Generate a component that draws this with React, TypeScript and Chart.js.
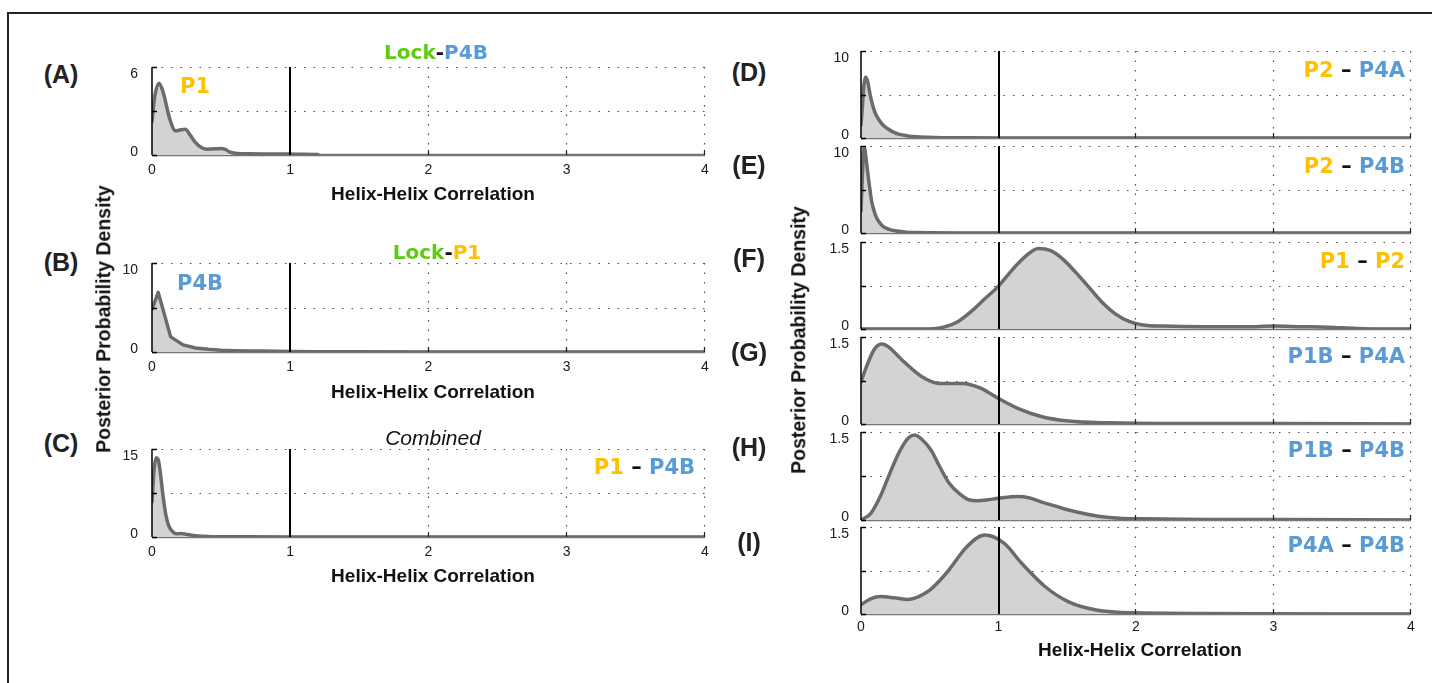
import React, { useEffect, useRef } from 'react';
import { Chart, registerables } from 'chart.js';

Chart.register(...registerables);

// ---------- data ----------
const xTickLabels = ['0', '1', '2', '3', '4'];

const xA = [0, 0.02, 0.05, 0.08, 0.13, 0.17, 0.21, 0.24, 0.28, 0.31, 0.36, 0.4, 0.46, 0.5, 0.53, 0.56, 0.6, 0.7, 0.8, 0.9, 1.0, 1.1, 1.2];
const yA = [2.3, 4.0, 4.9, 4.3, 2.4, 1.65, 1.72, 1.75, 1.3, 0.9, 0.5, 0.4, 0.42, 0.45, 0.38, 0.22, 0.12, 0.08, 0.07, 0.07, 0.06, 0.05, 0.03];

const xB = [0, 0.045, 0.135, 0.225, 0.315, 0.405, 0.5, 0.6, 0.7, 0.8, 0.9, 1.0, 1.2, 1.5, 2.0, 3.0, 4.0];
const yB = [4.8, 6.7, 1.7, 0.8, 0.45, 0.3, 0.2, 0.15, 0.12, 0.1, 0.08, 0.05, 0.03, 0.02, 0.01, 0, 0];

const xC = [0, 0.015, 0.03, 0.045, 0.06, 0.08, 0.1, 0.12, 0.15, 0.18, 0.21, 0.25, 0.3, 0.4, 0.5, 0.7, 1.0, 2.0, 3.0, 4.0];
const yC = [6, 11.5, 13.5, 13.2, 11, 7, 3.8, 2.0, 0.9, 0.55, 0.6, 0.45, 0.25, 0.1, 0.05, 0.03, 0.02, 0.01, 0, 0];

const xD = [0, 0.01, 0.02, 0.033, 0.05, 0.066, 0.1, 0.13, 0.16, 0.2, 0.24, 0.28, 0.33, 0.4, 0.48, 0.6, 0.8, 1.0, 1.5, 2, 3, 4];
const yD = [1.5, 3.6, 5.9, 7.0, 6.4, 5.0, 3.0, 2.1, 1.5, 1.0, 0.65, 0.42, 0.27, 0.14, 0.08, 0.04, 0.02, 0.01, 0, 0, 0, 0];

const xE = [0, 0.01, 0.018, 0.025, 0.035, 0.054, 0.078, 0.1, 0.115, 0.14, 0.163, 0.2, 0.26, 0.33, 0.41, 0.5, 0.7, 1.0, 2, 4];
const yE = [2.5, 6.5, 9.3, 9.9, 8.8, 6.3, 3.6, 2.3, 1.7, 1.1, 0.73, 0.45, 0.23, 0.1, 0.05, 0.03, 0.01, 0, 0, 0];

const xF = [0, 0.3, 0.5, 0.6, 0.7, 0.8, 0.9, 1.0, 1.1, 1.2, 1.29, 1.38, 1.47, 1.56, 1.65, 1.75, 1.85, 1.95, 2.05, 2.2, 2.5, 2.8, 3.0, 3.2, 3.4, 3.6, 3.8, 4.0];
const yF = [0, 0, 0, 0.03, 0.12, 0.3, 0.52, 0.74, 1.02, 1.26, 1.39, 1.35, 1.2, 0.98, 0.74, 0.47, 0.26, 0.13, 0.07, 0.05, 0.04, 0.04, 0.05, 0.04, 0.03, 0.01, 0, 0];

const xG = [0, 0.05, 0.1, 0.154, 0.2, 0.3, 0.44, 0.57, 0.66, 0.74, 0.87, 1.0, 1.14, 1.31, 1.51, 1.81, 2.2, 3, 4];
const yG = [0.73, 1.05, 1.3, 1.38, 1.33, 1.1, 0.82, 0.7, 0.7, 0.7, 0.62, 0.44, 0.27, 0.13, 0.05, 0.02, 0.01, 0.01, 0];

const xH = [0, 0.07, 0.14, 0.2, 0.25, 0.3, 0.35, 0.39, 0.44, 0.51, 0.57, 0.64, 0.72, 0.79, 0.85, 0.91, 1.0, 1.14, 1.22, 1.31, 1.41, 1.51, 1.62, 1.74, 1.88, 2.04, 2.5, 3, 4];
const yH = [0, 0.11, 0.4, 0.74, 1.02, 1.25, 1.41, 1.45, 1.38, 1.19, 0.92, 0.63, 0.44, 0.34, 0.33, 0.34, 0.37, 0.4, 0.38, 0.31, 0.24, 0.17, 0.11, 0.06, 0.03, 0.02, 0.01, 0.01, 0];

const xI = [0, 0.07, 0.14, 0.24, 0.34, 0.42, 0.5, 0.57, 0.64, 0.77, 0.9, 1.04, 1.17, 1.34, 1.51, 1.71, 1.98, 2.5, 3.5, 4];
const yI = [0.16, 0.26, 0.3, 0.28, 0.25, 0.3, 0.41, 0.57, 0.76, 1.16, 1.36, 1.22, 0.87, 0.47, 0.21, 0.07, 0.02, 0.01, 0, 0];

const yMaxes = [6, 10, 15, 10, 10, 1.5, 1.5, 1.5, 1.5];
const yTopLabels = ['6', '10', '15', '10', '10', '1.5', '1.5', '1.5', '1.5'];
const yZeroLabel = '0';

// ---------- layout / style ----------
const Y_W = 60;
const PAD_T = 32;
const PAD_R = 24;
const X_H = 34;
const X_H0 = 32;

const YELLOW = '#FFC000';
const BLUE = '#5B9BD5';
const GREEN = '#5FCB10';
const TICK_FONT = "'Liberation Sans', Arial, Helvetica, sans-serif";
const ANN_FONT = "'DejaVu Sans', Verdana, sans-serif";

type PanelCfg = {
  key: string;
  xs: number[];
  ys: number[];
  idx: number;
  box: [number, number, number, number];
  xLabels: boolean;
  smooth: boolean;
  yPad: number;
  xPad: number;
};

const LX0 = 152, LX1 = 705;
const RX0 = 861, RX1 = 1411;

const panels: PanelCfg[] = [
  { key: 'A', xs: xA, ys: yA, idx: 0, box: [LX0, 67, LX1, 155], xLabels: true, smooth: true, yPad: 14, xPad: 7 },
  { key: 'B', xs: xB, ys: yB, idx: 1, box: [LX0, 263, LX1, 352], xLabels: true, smooth: false, yPad: 14, xPad: 7 },
  { key: 'C', xs: xC, ys: yC, idx: 2, box: [LX0, 449, LX1, 537], xLabels: true, smooth: true, yPad: 14, xPad: 7 },
  { key: 'D', xs: xD, ys: yD, idx: 3, box: [RX0, 51, RX1, 138], xLabels: false, smooth: true, yPad: 12, xPad: 5 },
  { key: 'E', xs: xE, ys: yE, idx: 4, box: [RX0, 146, RX1, 233], xLabels: false, smooth: true, yPad: 12, xPad: 5 },
  { key: 'F', xs: xF, ys: yF, idx: 5, box: [RX0, 242, RX1, 329], xLabels: false, smooth: true, yPad: 12, xPad: 5 },
  { key: 'G', xs: xG, ys: yG, idx: 6, box: [RX0, 337, RX1, 424], xLabels: false, smooth: true, yPad: 12, xPad: 5 },
  { key: 'H', xs: xH, ys: yH, idx: 7, box: [RX0, 432, RX1, 520], xLabels: false, smooth: true, yPad: 12, xPad: 5 },
  { key: 'I', xs: xI, ys: yI, idx: 8, box: [RX0, 527, RX1, 614], xLabels: true, smooth: true, yPad: 12, xPad: 5 },
];

const framePlugin = {
  id: 'panelFrame',
  beforeDatasetsDraw(chart: any) {
    const { ctx, chartArea, scales } = chart;
    const { left, right, top, bottom } = chartArea;
    const x = scales.x, y = scales.y;
    ctx.save();
    // bottom axis (gray)
    ctx.strokeStyle = '#767676';
    ctx.lineWidth = 2.5;
    ctx.beginPath();
    ctx.moveTo(left, bottom);
    ctx.lineTo(right, bottom);
    ctx.stroke();
    // dotted grid
    ctx.setLineDash([1.5, 8]);
    ctx.strokeStyle = '#4a4a4a';
    ctx.lineWidth = 1.2;
    [2, 3, 4].forEach((v) => {
      const px = Math.round(x.getPixelForValue(v)) - 0.5;
      ctx.beginPath();
      ctx.moveTo(px, top);
      ctx.lineTo(px, bottom);
      ctx.stroke();
    });
    [y.max / 2, y.max].forEach((v) => {
      const py = Math.round(y.getPixelForValue(v)) + 0.5;
      ctx.beginPath();
      ctx.moveTo(left, py);
      ctx.lineTo(right, py);
      ctx.stroke();
    });
    ctx.restore();
  },
  afterDatasetsDraw(chart: any) {
    const { ctx, chartArea, scales } = chart;
    const { left, top, bottom } = chartArea;
    const x = scales.x, y = scales.y;
    ctx.save();
    ctx.strokeStyle = '#000';
    // reference line at 1
    ctx.lineWidth = 2;
    const p1 = Math.round(x.getPixelForValue(1));
    ctx.beginPath();
    ctx.moveTo(p1, top);
    ctx.lineTo(p1, bottom);
    ctx.stroke();
    // left axis
    ctx.lineWidth = 1.5;
    ctx.beginPath();
    ctx.moveTo(left, top);
    ctx.lineTo(left, bottom);
    ctx.stroke();
    // y ticks inward
    [0, y.max / 2, y.max].forEach((v) => {
      const py = Math.round(y.getPixelForValue(v)) + 0.5;
      ctx.beginPath();
      ctx.moveTo(left, py);
      ctx.lineTo(left + 5, py);
      ctx.stroke();
    });
    // x ticks inward
    ctx.lineWidth = 1.2;
    ctx.strokeStyle = '#222';
    [2, 3, 4].forEach((v) => {
      const px = Math.round(x.getPixelForValue(v)) - 0.5;
      ctx.beginPath();
      ctx.moveTo(px, bottom);
      ctx.lineTo(px, bottom - 5);
      ctx.stroke();
    });
    ctx.restore();
  },
};

function Panel({ cfg }: { cfg: PanelCfg }) {
  const ref = useRef<HTMLCanvasElement>(null);
  const [L, T, R, B] = cfg.box;
  const xh = cfg.xLabels ? X_H : X_H0;
  const w = R - L + Y_W + PAD_R;
  const h = B - T + PAD_T + xh;
  useEffect(() => {
    if (!ref.current) return;
    const yMax = yMaxes[cfg.idx];
    const yTop = yTopLabels[cfg.idx];
    const chart = new Chart(ref.current, {
      type: 'line',
      data: {
        datasets: [
          {
            data: cfg.xs.map((xv, i) => ({ x: xv, y: cfg.ys[i] })),
            fill: 'origin',
            backgroundColor: '#d3d3d3',
            borderColor: '#6b6b6b',
            borderWidth: 3.5,
            pointRadius: 0,
            cubicInterpolationMode: cfg.smooth ? 'monotone' : 'default',
            tension: 0,
            borderJoinStyle: 'round',
            borderCapStyle: 'round',
          } as any,
        ],
      },
      options: {
        animation: false,
        responsive: false,
        devicePixelRatio: 1,
        events: [],
        layout: { padding: { top: PAD_T, right: PAD_R, left: 0, bottom: 0 } },
        plugins: { legend: { display: false }, tooltip: { enabled: false }, title: { display: false } },
        scales: {
          x: {
            type: 'linear',
            min: 0,
            max: 4,
            grid: { display: false, drawTicks: false },
            border: { display: false },
            ticks: {
              display: cfg.xLabels,
              stepSize: 1,
              padding: cfg.xPad,
              autoSkip: false,
              maxRotation: 0,
              color: '#1a1a1a',
              font: { family: TICK_FONT, size: 14 },
              callback: (v: any) => xTickLabels[Number(v)] ?? '',
            },
            afterFit: (s: any) => {
              s.height = xh;
            },
          },
          y: {
            type: 'linear',
            min: 0,
            max: yMax,
            grid: { display: false, drawTicks: false },
            border: { display: false },
            afterBuildTicks: (s: any) => {
              s.ticks = [{ value: 0 }, { value: yMax / 2 }, { value: yMax }];
            },
            ticks: {
              padding: cfg.yPad,
              color: '#1a1a1a',
              font: (c: any) => ({
                family: TICK_FONT,
                size: 14,
                lineHeight: c.tick && c.tick.value === 0 ? 0.36 : 1.07,
              }),
              callback: (v: any) => (v === yMax ? ['', yTop] : v === 0 ? [yZeroLabel, ''] : ''),
            },
            afterFit: (s: any) => {
              s.width = Y_W;
            },
          },
        },
      } as any,
      plugins: [framePlugin],
    });
    return () => chart.destroy();
  }, []);
  return (
    <canvas
      ref={ref}
      width={w}
      height={h}
      style={{ position: 'absolute', left: L - Y_W, top: T - PAD_T, width: w, height: h }}
    />
  );
}

function Txt(props: {
  x: number;
  y: number;
  anchor?: 'center' | 'right' | 'left';
  rotate?: number;
  style?: React.CSSProperties;
  children: React.ReactNode;
}) {
  const { x, y, anchor = 'center', rotate, style, children } = props;
  const tx = anchor === 'right' ? '-100%' : anchor === 'left' ? '0' : '-50%';
  return (
    <div
      style={{
        position: 'absolute',
        left: x,
        top: y,
        transform: `translate(${tx}, -50%)${rotate ? ` rotate(${rotate}deg)` : ''}`,
        whiteSpace: 'nowrap',
        lineHeight: 1,
        ...style,
      }}
    >
      {children}
    </div>
  );
}

const panelLabelStyle: React.CSSProperties = {
  fontFamily: TICK_FONT,
  fontWeight: 700,
  fontSize: 25,
  color: '#222',
};
const axisTitleStyle: React.CSSProperties = {
  fontFamily: TICK_FONT,
  fontWeight: 700,
  fontSize: 19,
  color: '#111',
};
const annStyle: React.CSSProperties = {
  fontFamily: ANN_FONT,
  fontWeight: 700,
  fontSize: 21,
};
const titleStyle: React.CSSProperties = {
  fontFamily: ANN_FONT,
  fontWeight: 700,
  fontSize: 20,
};

function Pair({ a, ca, b, cb }: { a: string; ca: string; b: string; cb: string }) {
  return (
    <span>
      <span style={{ color: ca }}>{a}</span>
      <span style={{ color: '#111' }}> – </span>
      <span style={{ color: cb }}>{b}</span>
    </span>
  );
}

export default function App() {
  return (
    <div
      style={{
        position: 'absolute',
        left: 0,
        top: 0,
        width: 1432,
        height: 683,
        overflow: 'hidden',
        background: '#fff',
      }}
    >
      <div
        style={{
          position: 'absolute',
          left: 7,
          top: 12,
          width: 1440,
          height: 700,
          borderTop: '2px solid #222',
          borderLeft: '2px solid #222',
        }}
      />
      {panels.map((p) => (
        <Panel key={p.key} cfg={p} />
      ))}

      {/* panel letters */}
      <Txt x={61} y={74} style={panelLabelStyle}>(A)</Txt>
      <Txt x={61} y={262} style={panelLabelStyle}>(B)</Txt>
      <Txt x={61} y={443} style={panelLabelStyle}>(C)</Txt>
      <Txt x={749} y={72} style={panelLabelStyle}>(D)</Txt>
      <Txt x={749} y={165} style={panelLabelStyle}>(E)</Txt>
      <Txt x={749} y={258} style={panelLabelStyle}>(F)</Txt>
      <Txt x={749} y={352} style={panelLabelStyle}>(G)</Txt>
      <Txt x={749} y={447} style={panelLabelStyle}>(H)</Txt>
      <Txt x={749} y={542} style={panelLabelStyle}>(I)</Txt>

      {/* titles */}
      <Txt x={436} y={52} style={titleStyle}>
        <span style={{ color: GREEN }}>Lock</span>
        <span style={{ color: '#111' }}>-</span>
        <span style={{ color: BLUE }}>P4B</span>
      </Txt>
      <Txt x={437} y={252} style={titleStyle}>
        <span style={{ color: GREEN }}>Lock</span>
        <span style={{ color: '#111' }}>-</span>
        <span style={{ color: YELLOW }}>P1</span>
      </Txt>
      <Txt x={433} y={437} style={{ fontFamily: TICK_FONT, fontStyle: 'italic', fontSize: 21, color: '#111' }}>
        Combined
      </Txt>

      {/* annotations */}
      <Txt x={195} y={86} style={{ ...annStyle, color: YELLOW }}>P1</Txt>
      <Txt x={200} y={283} style={{ ...annStyle, color: BLUE }}>P4B</Txt>
      <Txt x={695} y={467} anchor="right" style={annStyle}>
        <Pair a="P1" ca={YELLOW} b="P4B" cb={BLUE} />
      </Txt>
      <Txt x={1405} y={70} anchor="right" style={annStyle}>
        <Pair a="P2" ca={YELLOW} b="P4A" cb={BLUE} />
      </Txt>
      <Txt x={1405} y={166} anchor="right" style={annStyle}>
        <Pair a="P2" ca={YELLOW} b="P4B" cb={BLUE} />
      </Txt>
      <Txt x={1405} y={261} anchor="right" style={annStyle}>
        <Pair a="P1" ca={YELLOW} b="P2" cb={YELLOW} />
      </Txt>
      <Txt x={1405} y={356} anchor="right" style={annStyle}>
        <Pair a="P1B" ca={BLUE} b="P4A" cb={BLUE} />
      </Txt>
      <Txt x={1405} y={450} anchor="right" style={annStyle}>
        <Pair a="P1B" ca={BLUE} b="P4B" cb={BLUE} />
      </Txt>
      <Txt x={1405} y={545} anchor="right" style={annStyle}>
        <Pair a="P4A" ca={BLUE} b="P4B" cb={BLUE} />
      </Txt>

      {/* axis titles */}
      <Txt x={433} y={193} style={axisTitleStyle}>Helix-Helix Correlation</Txt>
      <Txt x={433} y={391} style={axisTitleStyle}>Helix-Helix Correlation</Txt>
      <Txt x={433} y={575} style={axisTitleStyle}>Helix-Helix Correlation</Txt>
      <Txt x={1140} y={649} style={axisTitleStyle}>Helix-Helix Correlation</Txt>
      <Txt x={104} y={319} rotate={-90} style={{ ...axisTitleStyle, fontSize: 19.5 }}>
        Posterior Probability Density
      </Txt>
      <Txt x={799} y={340} rotate={-90} style={{ ...axisTitleStyle, fontSize: 19.5 }}>
        Posterior Probability Density
      </Txt>
    </div>
  );
}
